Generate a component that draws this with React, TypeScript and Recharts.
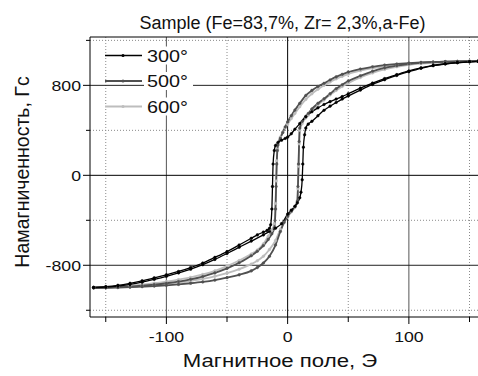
import React from 'react';
import { LineChart, Line, XAxis, YAxis, CartesianGrid, ReferenceLine } from 'recharts';

// ---- axis / tick data ----
const X_MIN = -163;
const X_MAX = 157;
const Y_MIN = -1260;
const Y_MAX = 1230;
const X_TICKS = [-150, -100, -50, 0, 50, 100, 150];
const X_LABELED = [-100, 0, 100];
const Y_TICKS = [-1200, -800, -400, 0, 400, 800, 1200];
const Y_LABELED = [-800, 0, 800];

const TITLE = 'Sample (Fe=83,7%, Zr= 2,3%,a-Fe)';
const X_TITLE = 'Магнитное поле, Э';
const Y_TITLE = 'Намагниченность, Гс';
const SERIES_NAMES = ['300°', '500°', '600°'];

// ---- 300° loop ----
const H_300_DOWN = [-160,-150,-140,-130,-120,-110,-100,-90,-80,-70,-60,-50,-40,-30,-25,-20,-17,-15,-14,-13,-12.5,-12,-11,-10,-8,-5,-2,0,3,6,10,15,20,25,30,35,40,45,50,60,70,80,90,100,110,120,130,140,150,157];
const M_300_DOWN = [-996,-990,-978,-960,-938,-912,-885,-855,-820,-780,-730,-678,-620,-560,-530,-505,-490,-472,-440,-300,-100,100,220,265,292,312,328,340,370,410,460,520,565,600,630,655,678,700,725,775,820,860,895,928,955,978,992,1003,1010,1014];
const H_300_UP = [-160,-150,-140,-130,-120,-110,-100,-90,-80,-70,-60,-50,-40,-30,-20,-15,-10,-5,0,3,6,8,10,11,12,12.5,13,14,15,17,20,25,30,35,40,45,50,60,70,80,90,100,110,120,130,140,150,157];
const M_300_UP = [-998,-994,-985,-970,-950,-925,-898,-868,-835,-795,-748,-695,-640,-585,-530,-500,-470,-430,-345,-310,-275,-245,-200,-150,-40,100,250,360,420,455,480,530,578,615,648,678,705,758,808,850,888,922,952,975,990,1001,1009,1013];

// ---- 500° loop ----
const H_500_DOWN = [-160,-150,-140,-130,-120,-110,-100,-90,-80,-70,-60,-50,-40,-30,-25,-20,-16,-13,-11,-10,-9.5,-9,-8.5,-8,-6,-4,-2,0,3,6,10,15,20,25,30,35,40,45,50,60,70,80,90,100,110,120,130,140,150,157];
const M_500_DOWN = [-1000,-998,-995,-990,-982,-972,-960,-945,-925,-900,-868,-828,-778,-715,-675,-625,-570,-520,-470,-300,-100,100,220,270,330,380,430,475,530,580,640,710,755,790,818,848,875,898,918,945,965,980,990,998,1004,1008,1011,1013,1015,1016];
const H_500_UP = [-160,-150,-140,-130,-120,-110,-100,-90,-80,-70,-60,-50,-40,-30,-25,-20,-15,-10,-6,-3,0,3,6,8,8.5,9,9.5,10,12,15,17,20,25,30,35,40,45,50,60,70,80,90,100,110,120,130,140,150,157];
const M_500_UP = [-1002,-1000,-998,-995,-990,-985,-978,-970,-960,-948,-932,-910,-885,-850,-820,-780,-720,-620,-500,-420,-365,-320,-280,-230,-100,100,300,420,480,525,550,590,640,680,725,770,805,838,885,925,955,975,990,1000,1006,1010,1012,1014,1015];

// ---- 600° loop ----
const H_600_DOWN = [-160,-150,-140,-130,-120,-110,-100,-90,-80,-70,-60,-50,-40,-30,-25,-20,-16,-13,-11,-10,-9.5,-9,-8.5,-8,-6,-4,-2,0,3,6,10,15,20,25,30,35,40,45,50,60,70,80,90,100,110,120,130,140,150,157];
const M_600_DOWN = [-998,-995,-990,-982,-972,-960,-945,-928,-908,-882,-850,-808,-758,-700,-665,-610,-540,-490,-430,-250,-50,130,230,280,340,385,420,455,505,550,610,675,725,765,800,830,858,880,900,930,953,970,982,992,999,1004,1008,1011,1013,1014];
const H_600_UP = [-160,-150,-140,-130,-120,-110,-100,-90,-80,-70,-60,-50,-40,-30,-25,-20,-15,-10,-6,-3,0,3,6,8,8.5,9,9.5,10,12,15,17,20,25,30,35,40,45,50,60,70,80,90,100,110,120,130,140,150,157];
const M_600_UP = [-1000,-998,-995,-990,-983,-975,-965,-953,-938,-920,-898,-870,-835,-790,-760,-720,-660,-580,-480,-420,-370,-325,-285,-240,-120,80,280,400,460,510,535,575,625,670,715,755,790,820,870,910,942,965,982,994,1001,1006,1010,1012,1014];

const zip = (hs: number[], ms: number[]) => hs.map((h, i) => ({ h, m: ms[i] }));

const COLORS = ['#000000', '#505050', '#bdbdbd'];
const WIDTHS = [1.3, 1.8, 1.8];

const BRANCHES = [
  { key: '600d', data: zip(H_600_DOWN, M_600_DOWN), s: 2 },
  { key: '600u', data: zip(H_600_UP, M_600_UP), s: 2 },
  { key: '500d', data: zip(H_500_DOWN, M_500_DOWN), s: 1 },
  { key: '500u', data: zip(H_500_UP, M_500_UP), s: 1 },
  { key: '300d', data: zip(H_300_DOWN, M_300_DOWN), s: 0 },
  { key: '300u', data: zip(H_300_UP, M_300_UP), s: 0 },
];

const FONT = '"Liberation Sans", Arial, sans-serif';
const SX = 1.18;

const XTick = (props: any) => {
  const { x, y, payload } = props;
  const v = payload.value;
  const major = X_LABELED.includes(v);
  return (
    <g>
      <line x1={x} y1={y} x2={x} y2={y + (major ? 7 : 5)} stroke="#000" strokeWidth={1} />
      {major && (
        <text transform={`translate(${x},${y + 24.5}) scale(${SX},1)`} textAnchor="middle" fontSize={15} fontFamily={FONT} fill="#111">
          {String(v)}
        </text>
      )}
    </g>
  );
};

const YTick = (props: any) => {
  const { x, y, payload } = props;
  const v = payload.value;
  const major = Y_LABELED.includes(v);
  return (
    <g>
      <line x1={x - (major ? 7 : 4)} y1={y} x2={x} y2={y} stroke="#000" strokeWidth={1} />
      {major && (
        <text transform={`translate(${x - 9},${y + 5.5}) scale(${SX},1)`} textAnchor="end" fontSize={15} fontFamily={FONT} fill="#111">
          {String(v)}
        </text>
      )}
    </g>
  );
};

export default function App() {
  const legendRows = [55.5, 81, 106.5];
  return (
    <div style={{ position: 'absolute', left: 0, top: 0, width: 478, height: 376, background: '#fff' }}>
      <LineChart width={478} height={376} margin={{ top: 37, right: 0, bottom: 29, left: 0 }}>
        <CartesianGrid horizontalValues={[-1200, -400, 400, 1200]} verticalValues={[-150, -50, 50, 150]} stroke="#8a8a8a" strokeDasharray="1 2" />
        <CartesianGrid horizontal={false} verticalValues={[-100, 100]} stroke="#555" />
        <CartesianGrid vertical={false} horizontalValues={[-800, 800]} stroke="#222" />
        <CartesianGrid horizontalValues={[0]} verticalValues={[0]} stroke="#000" />
        <XAxis
          type="number"
          dataKey="h"
          domain={[X_MIN, X_MAX]}
          allowDataOverflow
          ticks={X_TICKS}
          interval={0}
          tickLine={false}
          tickSize={0}
          tickMargin={0}
          height={30}
          axisLine={{ stroke: '#000' }}
          tick={<XTick />}
        />
        <YAxis
          type="number"
          dataKey="m"
          domain={[Y_MIN, Y_MAX]}
          allowDataOverflow
          ticks={Y_TICKS}
          interval={0}
          tickLine={false}
          tickSize={0}
          tickMargin={0}
          width={90}
          axisLine={{ stroke: '#000' }}
          tick={<YTick />}
        />
        <ReferenceLine y={Y_MAX} stroke="#000" ifOverflow="visible" />
        {BRANCHES.map((b) => (
          <Line
            key={b.key}
            data={b.data}
            dataKey="m"
            type="monotone"
            stroke={COLORS[b.s]}
            strokeWidth={WIDTHS[b.s]}
            dot={{ r: 1.3, fill: COLORS[b.s], stroke: COLORS[b.s], strokeWidth: 0.5 }}
            activeDot={false}
            isAnimationActive={false}
          />
        ))}
      </LineChart>
      <svg width={478} height={376} style={{ position: 'absolute', left: 0, top: 0, pointerEvents: 'none' }}>
        <text x={282.5} y={29} textAnchor="middle" fontSize={18} fontFamily={FONT} fill="#111">{TITLE}</text>
        <text transform={`translate(280,367) scale(1.2,1)`} textAnchor="middle" fontSize={18.5} fontFamily={FONT} fill="#111">{X_TITLE}</text>
        <text transform="translate(29,172) rotate(-90)" textAnchor="middle" fontSize={19.5} fontFamily={FONT} fill="#111">{Y_TITLE}</text>
        {SERIES_NAMES.map((name, i) => (
          <g key={name}>
            <rect x={144} y={legendRows[i] - 9} width={49} height={18} fill="#fff" />
            <line x1={105} y1={legendRows[i]} x2={142} y2={legendRows[i]} stroke={COLORS[i]} strokeWidth={WIDTHS[i]} />
            <circle cx={123} cy={legendRows[i]} r={1.5} fill={COLORS[i]} />
            <text transform={`translate(147,${legendRows[i] + 6}) scale(1.2,1)`} fontSize={16.5} fontFamily={FONT} fill="#111">{name}</text>
          </g>
        ))}
      </svg>
    </div>
  );
}
